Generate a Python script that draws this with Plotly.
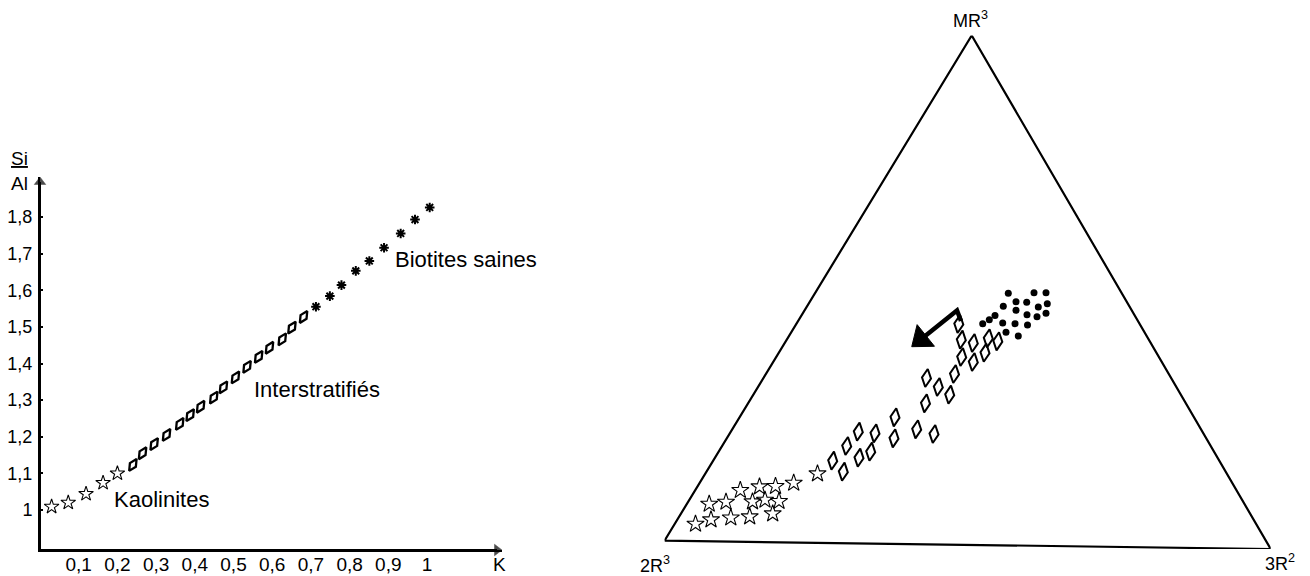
import plotly.graph_objects as go

# ---------------- Left panel: Si/Al versus K ----------------
kaol_k = [0.030, 0.073, 0.119, 0.163, 0.200]
kaol_sial = [1.009, 1.020, 1.044, 1.074, 1.100]

inter_k = [0.240, 0.265, 0.295, 0.327, 0.361, 0.388, 0.415, 0.449,
           0.474, 0.505, 0.535, 0.565, 0.593, 0.626, 0.651, 0.681]
inter_sial = [1.123, 1.155, 1.180, 1.205, 1.235, 1.259, 1.282, 1.307,
              1.335, 1.362, 1.391, 1.418, 1.443, 1.466, 1.498, 1.527]

biot_k = [0.713, 0.749, 0.779, 0.816, 0.851, 0.889, 0.932, 0.969, 1.007]
biot_sial = [1.555, 1.584, 1.614, 1.653, 1.680, 1.716, 1.755, 1.793, 1.826]

x_tickvals = [0.1, 0.2, 0.3, 0.4, 0.5, 0.6, 0.7, 0.8, 0.9, 1.0]
x_ticktext = ["0,1", "0,2", "0,3", "0,4", "0,5", "0,6", "0,7", "0,8", "0,9", "1"]
y_tickvals = [1.0, 1.1, 1.2, 1.3, 1.4, 1.5, 1.6, 1.7, 1.8]
y_ticktext = ["1", "1,1", "1,2", "1,3", "1,4", "1,5", "1,6", "1,7", "1,8"]

# ---------------- Right panel: triangle MR3 / 2R3 / 3R2 (positions in triangle) ----------------
tri_u = [0.0, 606.2, 307.2, 0.0]
tri_v = [0.0, -8.3, 505.2, 0.0]

kaol_u = [31, 46.5, 44.7, 61.5, 66.3, 75.8, 85.2, 88, 95, 100.5, 111, 114.5, 108.2, 129.2, 153]
kaol_v = [16.7, 21, 36.7, 38.7, 22.9, 50.4, 24, 39, 54, 40.7, 54.4, 39.4, 27, 57.7, 67]

inter_u = [168.2, 178.8, 182.2, 193.8, 194.5, 206.2, 210.5, 230.5, 229.5, 252.2, 269.5, 261,
           262, 273.8, 285.2, 290, 297.2, 308.8, 308.8, 296.8, 294.3, 320.5, 323.8, 333.3]
inter_v = [80, 69, 94.7, 109, 83, 89, 107.4, 123.4, 102.4, 111.4, 106.7, 137.4,
           162.7, 153.7, 146, 166.7, 183.7, 178.7, 197.7, 201, 216.7, 188, 202.4, 199.4]

biot_u = [343.8, 369.5, 381.5, 338.8, 351.5, 362.2, 373.8, 382.8, 351.5, 330.5,
          324.8, 318.2, 338.2, 350.5, 362.5, 372.5, 381.5, 341.5, 353.8, 363]
biot_v = [247.4, 248, 248, 234.4, 239, 238.5, 233.7, 237, 230.4, 225.2,
          221, 217, 217.7, 217, 226, 224, 227.4, 208.5, 204.7, 215.7]

# arrow (hook from top diamond, then thick arrow towards the kaolinite pole)
arrow_u = [296.5, 292.5, 256.6]
arrow_v = [219.7, 230.2, 201.5]

# page geometry: the html body has an 8px margin, so the figure is shifted by OFF
PAGE_W, PAGE_H = 1310, 576
OFF = 8
W, H = PAGE_W - OFF, PAGE_H - OFF


def px_x(p):
    return (p - OFF) / W


def px_y(p):
    return (PAGE_H - p) / H


FONT_TICK = "Liberation Sans Narrow, Arial Narrow, Liberation Sans, Arial, sans-serif"
FONT_TXT = "Liberation Sans, Arial, Helvetica, sans-serif"

# left axis geometry (page pixels)
x0_px, x1_px = 40, 502
y0_px, y1_px = 550, 177
px_per_x = 387.0
px_per_y = 366.25
xr = [0, (x1_px - x0_px) / px_per_x]
yr = [1 - (y0_px - 510) / px_per_y, 1 + (510 - y1_px) / px_per_y]
x_arrow_end = xr[1] - 5 / px_per_x
y_arrow_end = yr[1] - 5 / px_per_y

fig = go.Figure()

# left axes with arrowheads (drawn along the axis range)
fig.add_trace(go.Scatter(x=[0, x_arrow_end], y=[yr[0], yr[0]], mode="lines+markers",
                         cliponaxis=False, hoverinfo="skip",
                         line=dict(color="black", width=2),
                         marker=dict(symbol=["circle", "triangle-up"], size=[0, 10],
                                     angleref="previous", color="black",
                                     line=dict(width=0.5, color="black")),
                         xaxis="x", yaxis="y"))
fig.add_trace(go.Scatter(x=[0, 0], y=[yr[0], y_arrow_end], mode="lines+markers",
                         cliponaxis=False, hoverinfo="skip",
                         line=dict(color="black", width=2),
                         marker=dict(symbol=["circle", "triangle-up"], size=[0, 10],
                                     angleref="previous", color="black",
                                     line=dict(width=0.5, color="black")),
                         xaxis="x", yaxis="y"))

# left traces
fig.add_trace(go.Scatter(x=kaol_k, y=kaol_sial, mode="markers", cliponaxis=False,
                         marker=dict(symbol="star-open", size=11, color="black",
                                     line=dict(width=1.1, color="black")),
                         xaxis="x", yaxis="y"))
fig.add_trace(go.Scatter(x=inter_k, y=inter_sial, mode="markers", cliponaxis=False,
                         marker=dict(symbol="diamond-tall-open", size=10, angle=32, color="black",
                                     line=dict(width=2.3, color="black")),
                         xaxis="x", yaxis="y"))
fig.add_trace(go.Scatter(x=biot_k, y=biot_sial, mode="markers", cliponaxis=False,
                         marker=dict(symbol="asterisk-open", size=8, color="black",
                                     line=dict(width=2, color="black")),
                         xaxis="x", yaxis="y"))

# right traces
fig.add_trace(go.Scatter(x=tri_u, y=tri_v, mode="lines", cliponaxis=False,
                         line=dict(color="black", width=2.2),
                         xaxis="x2", yaxis="y2"))
fig.add_trace(go.Scatter(x=kaol_u, y=kaol_v, mode="markers", cliponaxis=False,
                         marker=dict(symbol="star-open", size=13, color="black",
                                     line=dict(width=1.1, color="black")),
                         xaxis="x2", yaxis="y2"))
fig.add_trace(go.Scatter(x=inter_u, y=inter_v, mode="markers", cliponaxis=False,
                         marker=dict(symbol="diamond-tall-open", size=13, angle=8, color="black",
                                     line=dict(width=2, color="black")),
                         xaxis="x2", yaxis="y2"))
fig.add_trace(go.Scatter(x=biot_u, y=biot_v, mode="markers", cliponaxis=False,
                         marker=dict(symbol="circle", size=7, color="black"),
                         xaxis="x2", yaxis="y2"))
fig.add_trace(go.Scatter(x=arrow_u, y=arrow_v, mode="lines+markers", cliponaxis=False,
                         line=dict(color="black", width=4.5),
                         marker=dict(symbol=["circle", "circle", "triangle-up"], size=[0, 0, 24],
                                     angleref="previous", color="black", opacity=1,
                                     line=dict(width=1, color="black")),
                         xaxis="x2", yaxis="y2"))

annotations = []
# axis titles (paper positions)
annotations.append(dict(x=px_x(500), y=px_y(564), xref="paper", yref="paper", text="K",
                        xanchor="center", yanchor="middle", showarrow=False,
                        font=dict(family=FONT_TXT, size=19, color="black")))
annotations.append(dict(x=px_x(19), y=px_y(171), xref="paper", yref="paper",
                        text="<u>Si</u><br>Al", showarrow=False,
                        xanchor="center", yanchor="middle",
                        font=dict(family=FONT_TXT, size=19, color="black")))
# group labels
for txt, xx, yy in [("Kaolinites", 0.186, 1.030),
                    ("Interstratifiés", 0.548, 1.330),
                    ("Biotites saines", 0.912, 1.685)]:
    annotations.append(dict(x=xx, y=yy, xref="x", yref="y", text=txt, showarrow=False,
                            xanchor="left", yanchor="middle",
                            font=dict(family=FONT_TXT, size=22, color="black")))
# right panel vertex labels (paper positions)
for txt, pxx, pyy in [("MR<sup>3</sup>", 970.5, 20),
                      ("2R<sup>3</sup>", 655, 564),
                      ("3R<sup>2</sup>", 1280, 562)]:
    annotations.append(dict(x=px_x(pxx), y=px_y(pyy), xref="paper", yref="paper", text=txt,
                            xanchor="center", yanchor="middle", showarrow=False,
                            font=dict(family=FONT_TXT, size=18, color="black")))

# right axis geometry (page pixels)
rx0_px, rx1_px = 664.5, 1270.7
ry_top_px, ry_bot_px = 35.5, 549.0

fig.update_layout(
    width=W, height=H, autosize=False,
    margin=dict(l=0, r=0, t=0, b=0, autoexpand=False),
    paper_bgcolor="white", plot_bgcolor="white",
    showlegend=False,
    xaxis=dict(domain=[px_x(x0_px), px_x(x1_px)], range=xr, showgrid=False, zeroline=False,
               showline=True, linecolor="black", linewidth=2, automargin=False,
               tickmode="array", tickvals=x_tickvals, ticktext=x_ticktext,
               ticks="", ticklabelstandoff=-4,
               tickfont=dict(family=FONT_TICK, size=19, color="black")),
    yaxis=dict(domain=[px_y(y0_px), px_y(y1_px)], range=yr, showgrid=False,
               zeroline=False, showline=True, linecolor="black", linewidth=2, automargin=False,
               tickmode="array", tickvals=y_tickvals, ticktext=y_ticktext,
               ticks="inside", ticklen=3, tickwidth=2, tickcolor="black",
               ticklabelstandoff=2,
               tickfont=dict(family=FONT_TICK, size=18, color="black")),
    xaxis2=dict(domain=[px_x(rx0_px), px_x(rx1_px)], range=[0, 606.2], visible=False,
                anchor="y2", automargin=False),
    yaxis2=dict(domain=[px_y(ry_bot_px), px_y(ry_top_px)], range=[-8.3, 505.2],
                visible=False, anchor="x2", automargin=False),
    annotations=annotations,
)

fig.write_html("out.html")
